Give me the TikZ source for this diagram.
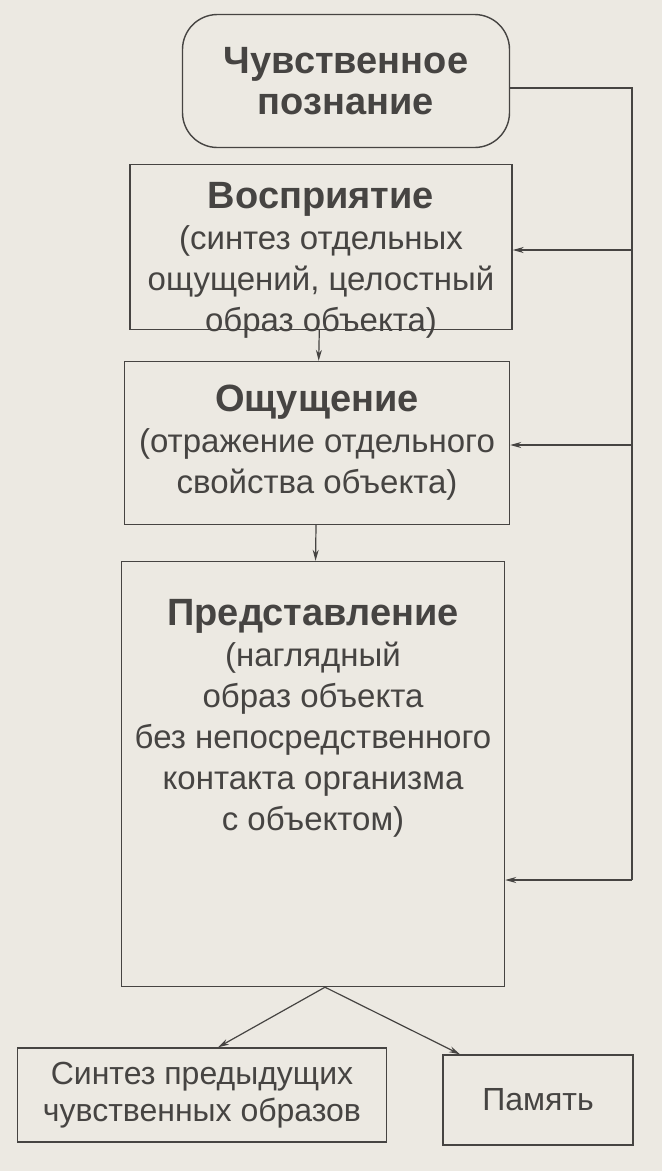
\documentclass[tikz,border=0pt]{standalone}
\usepackage{fontspec}
\setmainfont{Liberation Sans}
\usetikzlibrary{positioning,arrows.meta}
\definecolor{paper}{RGB}{236,233,226}
\definecolor{ink}{RGB}{70,68,66}

\newcommand{\boxtitle}[1]{{\fontsize{38}{41}\selectfont\bfseries #1}}

\tikzset{
  box/.style={draw=ink, line width=1.4pt, text=ink, align=center, inner sep=2pt},
  bigtext/.style={font=\fontsize{33}{41}\selectfont},
  smalltext/.style={font=\fontsize{32}{37}\selectfont},
  arr/.style={draw=ink, line width=1.2pt, -{Stealth[length=11pt,width=6pt]}}
}

\begin{document}
\begin{tikzpicture}[x=1pt, y=-1pt]

        % page
        \fill[paper] (0,0) rectangle (662,1171);
        \useasboundingbox (0,0) rectangle (662,1171);

        % boxes
        \node[box, bigtext, rounded corners=35pt, minimum width=327pt, minimum height=133pt] (knowledge) at (346,81) {\boxtitle{Чувственное}\\\boxtitle{познание}};
        \node[box, minimum width=382pt, minimum height=165pt] (perception) at (321,247) {};
        \node[bigtext, text=ink, align=center] (perceptiontext) at (321,260) {\boxtitle{Восприятие}\\(синтез отдельных\\ощущений, целостный\\образ объекта)};
        \node[box, bigtext, minimum width=385pt, minimum height=163pt] (sensation) at (317,443) {\boxtitle{Ощущение}\\(отражение отдельного\\свойства объекта)};
        \node[box, minimum width=383pt, minimum height=425pt] (representation) at (313,774) {};
        \node[bigtext, text=ink, align=center] (representationtext) at (313,718) {\boxtitle{Представление}\\(наглядный\\образ объекта\\без непосредственного\\контакта организма\\с объектом)};
        \node[box, smalltext, minimum width=369pt, minimum height=94pt] (synthesis) at (202,1095) {Синтез предыдущих\\чувственных образов};
        \node[box, smalltext, minimum width=190pt, minimum height=90pt] (memory) at (538,1100) {Память};

        % right feedback line
        \coordinate (corner) at (632,88);
        \coordinate (bottom) at (632,880);
        \draw[draw=ink, line width=1.4pt] (knowledge.east |- corner) -- (corner) -- (bottom);
        \foreach \y/\target in {250/perception, 445/sensation, 880/representation} {
            \coordinate (tap) at (632,\y);
            \draw[arr] (tap) -- (tap -| \target.east);
        }

        % vertical chain
        \draw[arr] (perception) -- (sensation);
        \draw[arr] (sensation) -- (representation);

        % split at the bottom
        \coordinate (apex) at ([xshift=12pt]representation.south);
        \draw[arr] (apex) -- ([xshift=16pt]synthesis.north);
        \draw[arr] (apex) -- ([xshift=-78pt]memory.north);

\end{tikzpicture}
\end{document}
